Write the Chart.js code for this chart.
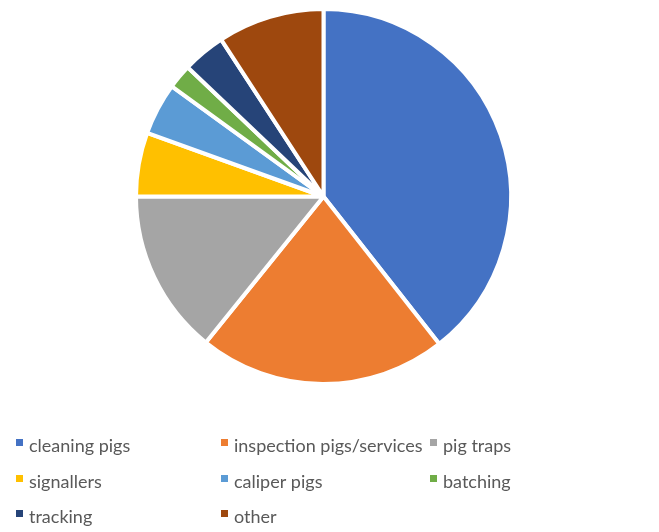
<!DOCTYPE html>
<html>
<head>
<meta charset="utf-8">
<script src="https://cdn.jsdelivr.net/npm/chart.js@4/dist/chart.umd.min.js"></script>
<style>
  html, body { margin: 0; padding: 0; background: #fff; }
  #wrap { position: relative; width: 659px; height: 532px; }
</style>
</head>
<body>
<div id="wrap"><canvas id="pigs_pie"></canvas></div>
<script>
const LABELS = ['cleaning pigs', 'inspection pigs/services', 'pig traps', 'signallers', 'caliper pigs', 'batching', 'tracking', 'other'];
const SHARES = [39.4, 21.4, 14.2, 5.5, 4.5, 2.1, 3.7, 9.2]; // %
const COLORS = ['#4472C4', '#ED7D31', '#A5A5A5', '#FFC000', '#5B9BD5', '#70AD47', '#264478', '#9E480E'];

// legend in 3 columns under the pie
const LEGEND_COLS = [17, 222, 431];
const LEGEND_ROWS = [452, 488, 523];

const gridLegend = {
  id: 'gridLegend',
  afterDraw: function(chart) {
    const ctx = chart.ctx;
    ctx.save();
    ctx.font = '18px Lato';
    ctx.textBaseline = 'alphabetic';
    chart.data.labels.forEach((label, i) => {
      const x = LEGEND_COLS[i % 3];
      const y = LEGEND_ROWS[Math.floor(i / 3)];
      ctx.fillStyle = chart.data.datasets[0].backgroundColor[i];
      ctx.fillRect(x - 1, y - 13, 7, 7);
      ctx.fillStyle = '#595959';
      ctx.fillText(label, x + 12, y);
    });
    ctx.restore();
  }
};

new Chart(document.querySelector('#pigs_pie'), {
  type: 'pie',
  data: {
    labels: LABELS,
    datasets: [{
      data: SHARES,
      backgroundColor: COLORS,
      borderColor: '#ffffff',
      borderWidth: 4,
    }],
  },
  options: {
    responsive: true,
    maintainAspectRatio: false,
    animation: false,
    layout: { padding: { top: 7, bottom: 146, left: 0, right: 12 } },
    plugins: {
      legend: { display: false },
      tooltip: { enabled: false },
    },
  },
  plugins: [gridLegend],
});
</script>
</body>
</html>
